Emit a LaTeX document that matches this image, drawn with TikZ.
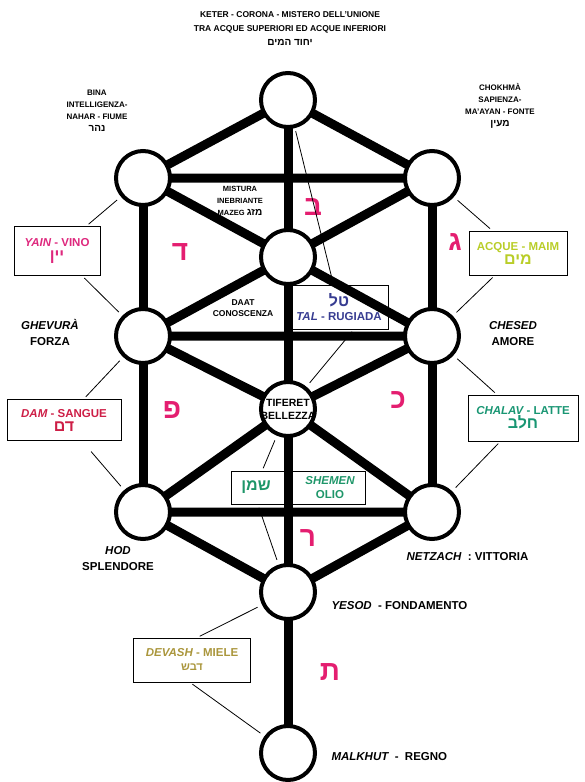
\documentclass[tikz,border=0pt]{standalone}
\usepackage{fontspec}
\setmainfont{Liberation Sans}
\newfontfamily\hebfont[Script=Hebrew]{Liberation Sans}
\usetikzlibrary{backgrounds}
\TeXXeTstate=1
\definecolor{lettera}{RGB}{228,30,112}
\definecolor{vino}{RGB}{222,40,125}
\definecolor{sangue}{RGB}{205,30,70}
\definecolor{latte}{RGB}{25,150,115}
\definecolor{olio}{RGB}{30,150,105}
\definecolor{rugiada}{RGB}{55,60,145}
\definecolor{acqua}{RGB}{185,205,40}
\definecolor{miele}{RGB}{170,150,60}
\newcommand{\heb}[1]{{\hebfont\fontsize{10}{12}\selectfont\beginR #1\endR}}

\begin{document}
\begin{tikzpicture}[x=1pt,y=-1pt,
    sefira/.style={circle,draw,line width=4pt,fill=white,minimum size=54pt,inner sep=0pt},
    canale/.style={line width=9pt},
    filo/.style={line width=0.8pt,shorten <=3pt,shorten >=5pt},
    riquadro/.style={draw,line width=0.8pt,inner sep=0pt,align=center,font=\bfseries\fontsize{11.5}{14}\selectfont},
    lettera/.style={text=lettera,font=\hebfont\bfseries\fontsize{28}{28}\selectfont},
    nome/.style={align=center,font=\bfseries\fontsize{8}{12}\selectfont},
    grande/.style={align=center,font=\bfseries\fontsize{11.5}{16}\selectfont}]
  \useasboundingbox (0,0) rectangle (585,782);

  \node[sefira] (keter) at (288,100) {};
  \node[sefira] (bina) at (143,178) {};
  \node[sefira] (chokhma) at (432,178) {};
  \node[sefira] (daat) at (288,257) {};
  \node[sefira] (ghevura) at (143,336) {};
  \node[sefira] (chesed) at (432,336) {};
  \node[sefira] (tiferet) at (288,409) {};
  \node[sefira] (hod) at (143,512) {};
  \node[sefira] (netzach) at (432,512) {};
  \node[sefira] (yesod) at (288,592) {};
  \node[sefira] (malkhut) at (288,753) {};
  \node[align=center,font=\bfseries\fontsize{10.5}{13}\selectfont] (tiferetnome) at (tiferet) {TIFERET\\BELLEZZA};

  \begin{scope}[on background layer]
    \draw[canale] (bina.center) -- (keter.center) -- (chokhma.center) -- (bina.center);
    \draw[canale] (keter.center) -- (daat.center) -- (tiferet.center) -- (yesod.center) -- (malkhut.center);
    \draw[canale] (bina.center) -- (daat.center) -- (chokhma.center);
    \draw[canale] (ghevura.center) -- (daat.center) -- (chesed.center) -- (ghevura.center);
    \draw[canale] (bina.center) -- (ghevura.center) -- (hod.center);
    \draw[canale] (chokhma.center) -- (chesed.center) -- (netzach.center);
    \draw[canale] (ghevura.center) -- (tiferet.center) -- (chesed.center);
    \draw[canale] (hod.center) -- (tiferet.center) -- (netzach.center) -- (hod.center);
    \draw[canale] (hod.center) -- (yesod.center) -- (netzach.center);
  \end{scope}

  \node[lettera] (bet) at (313,207) {\beginR ב\endR};
  \node[lettera] (dalet) at (180,252) {\beginR ד\endR};
  \node[lettera] (gimel) at (455,242) {\beginR ג\endR};
  \node[lettera] (pe) at (172,410) {\beginR פ\endR};
  \node[lettera] (kaf) at (398,400) {\beginR כ\endR};
  \node[lettera] (resh) at (308,538) {\beginR ר\endR};
  \node[lettera] (tav) at (330,672) {\beginR ת\endR};

  \node[riquadro,text=vino,minimum width=86pt,minimum height=49pt] (yain) at (57,251)
    {{\itshape YAIN} - VINO\\{\hebfont\fontsize{16}{16}\selectfont\beginR יין\endR}};
  \node[riquadro,text=acqua,minimum width=98pt,minimum height=44pt] (acque) at (518,253)
    {ACQUE - MAIM\\{\hebfont\fontsize{16}{16}\selectfont\beginR מים\endR}};
  \node[riquadro,text=sangue,minimum width=114pt,minimum height=41pt] (dam) at (64,420)
    {{\itshape DAM} - SANGUE\\{\hebfont\fontsize{16}{16}\selectfont\beginR דם\endR}};
  \node[riquadro,text=latte,minimum width=110pt,minimum height=46pt] (chalav) at (523,418)
    {{\itshape CHALAV} - LATTE\\{\hebfont\fontsize{16}{16}\selectfont\beginR חלב\endR}};
  \node[riquadro,text=rugiada,minimum width=98pt,minimum height=44pt] (tal) at (339,307)
    {{\hebfont\fontsize{16}{16}\selectfont\beginR טל\endR}\\{\itshape TAL} - RUGIADA};
  \node[riquadro,minimum width=134pt,minimum height=33pt] (shemen) at (298,488) {};
  \node[text=olio,font=\hebfont\bfseries\fontsize{16}{16}\selectfont] (shemenheb) at (256,487) {\beginR שמן\endR};
  \node[riquadro,draw=none,text=olio] (shemennome) at (330,488) {{\itshape SHEMEN}\\OLIO};
  \node[riquadro,text=miele,minimum width=117pt,minimum height=44pt] (devash) at (192,660)
    {{\itshape DEVASH} - MIELE\\{\hebfont\fontsize{11}{11}\selectfont\beginR דבש\endR}};

  \draw[filo] (yain) -- (bina);
  \draw[filo] (yain) -- (ghevura);
  \draw[filo] (acque) -- (chokhma);
  \draw[filo] (acque) -- (chesed);
  \draw[filo] (dam) -- (ghevura);
  \draw[filo,shorten <=14pt] (dam) -- (hod);
  \draw[filo] (chalav) -- (chesed);
  \draw[filo] (chalav) -- (netzach);
  \draw[filo] (keter) -- (tal);
  \draw[filo] ([xshift=15pt]tal.south) -- (tiferet);
  \draw[filo] ([xshift=-36pt]shemen.north) -- (tiferet);
  \draw[filo] ([xshift=-40pt]shemen.south) -- (yesod);
  \draw[filo] ([xshift=5pt]devash.north) -- (yesod);
  \draw[filo] ([xshift=-2pt]devash.south) -- (malkhut);

  \node[nome,font=\bfseries\fontsize{8.5}{14}\selectfont] (titolo) at (290,29)
    {KETER - CORONA - MISTERO DELL'UNIONE\\TRA ACQUE SUPERIORI ED ACQUE INFERIORI\\\heb{יחוד המים}};
  \node[nome] (binanome) at (97,111) {BINA\\INTELLIGENZA-\\NAHAR - FIUME\\\heb{נהר}};
  \node[nome] (chokhmanome) at (500,106) {CHOKHMÀ\\SAPIENZA-\\MA'AYAN - FONTE\\\heb{מעין}};
  \node[nome,font=\bfseries\fontsize{7.5}{12}\selectfont] (mistura) at (240,201) {MISTURA\\INEBRIANTE\\MAZEG \heb{מזג}};
  \node[nome,font=\bfseries\fontsize{8.5}{11}\selectfont] (daatnome) at (243,308) {DAAT\\CONOSCENZA};
  \node[grande] (ghevuranome) at (50,332) {{\itshape GHEVURÀ}\\FORZA};
  \node[grande] (chesednome) at (513,334) {{\itshape CHESED}\\AMORE};
  \node[grande] (hodnome) at (118,559) {{\itshape HOD}\\SPLENDORE};
  \node[grande,anchor=west] (netzachnome) at (403,557) {{\itshape NETZACH}\ \ :\ VITTORIA};
  \node[grande,anchor=west] (yesodnome) at (328,606) {{\itshape YESOD}\ \ -\ FONDAMENTO};
  \node[grande,anchor=west] (malkhutnome) at (328,757) {{\itshape MALKHUT}\ \ -\ \ REGNO};
\end{tikzpicture}
\end{document}
